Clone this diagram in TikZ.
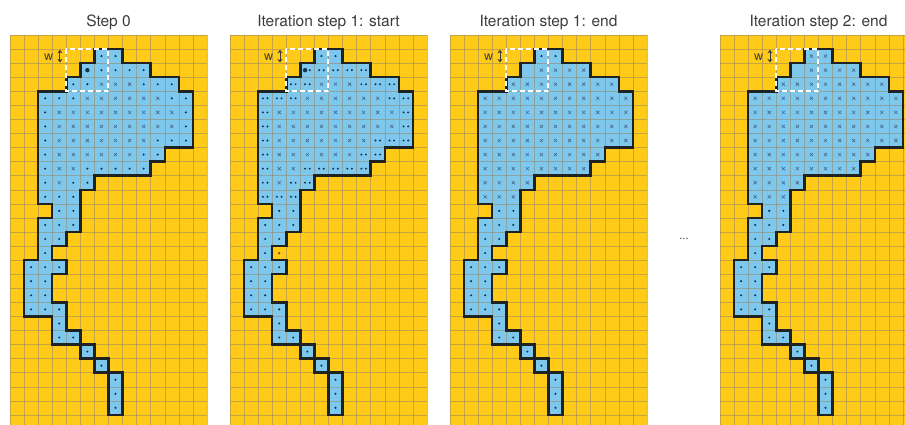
\documentclass[tikz,border=0pt]{standalone}
\usepackage{fontspec}
\setmainfont{TeX Gyre Heros}
\usetikzlibrary{arrows.meta}
\definecolor{yel}{RGB}{255,203,24}
\definecolor{blu}{RGB}{126,200,238}
\definecolor{gridc}{RGB}{150,135,100}
\definecolor{outl}{RGB}{30,34,34}
\definecolor{dotc}{RGB}{20,50,80}
\definecolor{crossc}{RGB}{70,105,135}
\definecolor{titlec}{RGB}{60,60,60}
\tikzset{
  gridl/.style={draw=gridc, line width=0.5pt, opacity=0.55},
  outline/.style={draw=outl, line width=2.5pt, line join=miter},
  window/.style={draw=white, line width=2pt, dash pattern=on 5pt off 3pt},
  ptitle/.style={text=titlec, font=\fontsize{15.5}{18}\selectfont, anchor=base},
  wlabel/.style={text=titlec, font=\fontsize{12.5}{14}\selectfont, anchor=base},
  warrow/.style={draw=titlec, line width=0.9pt, {Stealth[length=3.5pt,width=5pt]}-{Stealth[length=3.5pt,width=5pt]}},
}
\def\ShapePath{(6,1) -- (8,1) -- (8,2) -- (10,2) -- (10,3) -- (12,3) -- (12,4) -- (13,4) -- (13,8) -- (11,8) -- (11,9) -- (10,9) -- (10,10) -- (6,10) -- (6,11) -- (5,11) -- (5,14) -- (4,14) -- (4,15) -- (3,15) -- (3,16) -- (4,16) -- (4,17) -- (3,17) -- (3,19) -- (4,19) -- (4,21) -- (5,21) -- (5,22) -- (6,22) -- (6,23) -- (7,23) -- (7,24) -- (8,24) -- (8,27) -- (7,27) -- (7,24) -- (6,24) -- (6,23) -- (5,23) -- (5,22) -- (3,22) -- (3,20) -- (1,20) -- (1,16) -- (2,16) -- (2,13) -- (3,13) -- (3,12) -- (2,12) -- (2,4) -- (4,4) -- (4,3) -- (5,3) -- (5,2) -- (6,2) -- cycle}
% marker lists: row/firstcol/lastcol
\def\TopRow{1/6/7}
\def\Bound{2/6/9, 3/4/5, 3/9/11, 4/2/4, 4/11/12, 5/2/2, 5/12/12, 6/2/2, 6/12/12, 7/2/2, 7/10/12, 8/2/2, 8/9/10, 9/2/2, 9/5/9, 10/2/2, 10/4/5, 11/2/4}
\def\Inner{3/6/8, 4/5/10, 5/3/11, 6/3/11, 7/3/9, 8/3/8, 9/3/4, 10/3/3}
\def\Tail{12/3/4, 13/2/4, 14/2/3, 15/2/2, 16/1/3, 17/1/2, 18/1/2, 19/1/3, 20/3/3, 21/3/4, 22/5/5, 23/6/6, 24/7/7, 25/7/7, 26/7/7}
\newcommand\DotsIn[1]{\foreach \rr/\ca/\cb in #1 {\foreach \cc in {\ca,...,\cb} {\fill[dotc] (\cc+0.5,\rr+0.5) circle (1.15pt);}}}
\newcommand\DoubleIn[1]{\foreach \rr/\ca/\cb in #1 {\foreach \cc in {\ca,...,\cb} {\fill[dotc] (\cc+0.5,\rr+0.5) ++(-2.3pt,0) circle (1.1pt) ++(4.6pt,0) circle (1.1pt);}}}
\newcommand\CrossIn[1]{\foreach \rr/\ca/\cb in #1 {\foreach \cc in {\ca,...,\cb} {\draw[crossc, line width=0.6pt] (\cc+0.5,\rr+0.5) ++(-1.6pt,-1.6pt) -- ++(3.2pt,3.2pt) ++(-3.2pt,0) -- ++(3.2pt,-3.2pt);}}}
\newcommand\PanelBase{%
  \fill[yel] (0,0) rectangle (14,28);
  \fill[blu] \ShapePath;
  \foreach \i in {0,...,14} {\draw[gridl] (\i,0) -- (\i,28);}
  \foreach \j in {0,...,28} {\draw[gridl] (0,\j) -- (14,\j);}}
\newcommand\PanelTop[1]{%
  \draw[outline] \ShapePath;
  \draw[window] (4,1) rectangle (7,4);
  \node[wlabel] (w#1) at (2.74,1.8) {w};
  \coordinate (wa#1) at (3.55,1.05);
  \coordinate (wb#1) at (3.55,1.95);
  \draw[warrow] (wa#1) -- (wb#1);}
\begin{document}
\begin{tikzpicture}[x=1pt,y=-1pt]
\useasboundingbox (0,0) rectangle (905,425);
\clip (0,0) rectangle (905,425);
\fill[white] (0,0) rectangle (905,425);
% titles
\node[ptitle] (t1) at (108.5,26.5) {Step 0};
\node[ptitle] (t2) at (328.5,26.5) {Iteration step 1: start};
\node[ptitle] (t3) at (548.5,26.5) {Iteration step 1: end};
\node[ptitle] (t4) at (818.5,26.5) {Iteration step 2: end};
\node[text=titlec, font=\fontsize{11}{12}\selectfont] (dots) at (684,239) {...};
% panel 1
\begin{scope}[xshift=10pt, yshift=-35pt, x=14.07pt, y=-14.07pt]
  \PanelBase
  \DotsIn{\TopRow}
  \DotsIn{\Bound}
  \DotsIn{\Tail}
  \CrossIn{\Inner}
  \fill[dotc] (5.5,2.5) circle (2.2pt);
  \PanelTop{1}
\end{scope}
% panel 2
\begin{scope}[xshift=230pt, yshift=-35pt, x=14.07pt, y=-14.07pt]
  \PanelBase
  \DotsIn{\TopRow}
  \DoubleIn{\Bound}
  \DotsIn{\Tail}
  \CrossIn{\Inner}
  \fill[dotc] (5.5,2.5) ++(-2.3pt,0) circle (2.2pt) ++(4.8pt,0) circle (1.1pt);
  \fill[dotc!70!orange] (3.5,15.5) circle (1.3pt);
  \PanelTop{2}
\end{scope}
% panel 3
\begin{scope}[xshift=450pt, yshift=-35pt, x=14.07pt, y=-14.07pt]
  \PanelBase
  \DotsIn{\TopRow}
  \CrossIn{\Bound}
  \DotsIn{\Tail}
  \CrossIn{\Inner}
  \PanelTop{3}
\end{scope}
% panel 4
\begin{scope}[xshift=720pt, yshift=-35pt, x=14.07pt, y=-14.07pt]
  \PanelBase
  \CrossIn{\TopRow}
  \CrossIn{\Bound}
  \DotsIn{\Tail}
  \CrossIn{\Inner}
  \PanelTop{4}
\end{scope}
\end{tikzpicture}
\end{document}
